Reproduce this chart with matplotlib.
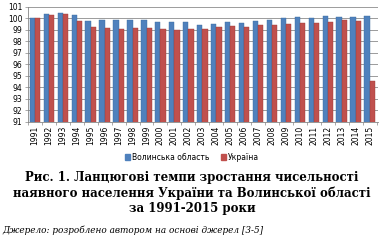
import matplotlib
matplotlib.use("Agg")

import matplotlib.pyplot as plt
import numpy as np
from matplotlib.patches import Patch


years = [str(y) for y in range(1991, 2016)]
volyn = [100.0, 100.35, 100.47, 100.3, 99.75, 99.83, 99.83, 99.83, 99.83, 99.65,
         99.65, 99.65, 99.4, 99.5, 99.65, 99.57, 99.75, 99.83, 100.0, 100.08,
         100.0, 100.2, 100.08, 100.08, 100.2]
ukraine = [100.0, 100.27, 100.38, 99.75, 99.2, 99.12, 99.04, 99.12, 99.12, 99.04,
           98.98, 99.04, 99.04, 99.2, 99.3, 99.2, 99.42, 99.4, 99.5, 99.57,
           99.57, 99.65, 99.85, 99.75, 94.55]

series_names = ["Волинська область", "Україна"]
caption = ("Рис. 1. Ланцюгові темпи зростання чисельності\n"
           "наявного населення України та Волинської області\n"
           "за 1991-2015 роки")
source = "Джерело: розроблено автором на основі джерел [3-5]"

BLUE = "#4F81BD"
RED = "#C0504D"

fig = plt.figure(figsize=(3.84, 2.42), dpi=100)
ax = fig.add_axes([28 / 384, 1 - 121.7 / 242, 350 / 384, 115 / 242])

x = np.arange(len(years))
w = 0.38
ax.bar(x - w / 2, volyn, width=w, color=BLUE, edgecolor="#3A6A9E", linewidth=0.3,
       zorder=2)
ax.bar(x + w / 2, ukraine, width=w, color=RED, edgecolor="#9A3B38", linewidth=0.3,
       zorder=2)

ax.set_ylim(91, 101)
ax.set_xlim(-0.4, len(years) - 0.4)
ax.set_yticks(range(91, 102))
ax.set_yticklabels([str(v) for v in range(91, 102)], fontsize=5.5)
ax.set_xticks(x)
ax.set_xticklabels(years, rotation=90, fontsize=5.5)
ax.set_xticks(np.arange(len(years) + 1) - 0.5, minor=True)
ax.tick_params(axis="x", which="major", length=0, pad=3)
ax.tick_params(axis="x", which="minor", length=2.5, width=0.5, color="#868686")
ax.tick_params(axis="y", length=2, width=0.5, color="#868686", pad=2)
ax.grid(axis="y", color="#8C8C8C", linewidth=0.6, zorder=0)
ax.set_axisbelow(True)
for side in ("top", "right"):
    ax.spines[side].set_visible(False)
for side in ("left", "bottom"):
    ax.spines[side].set_color("#868686")
    ax.spines[side].set_linewidth(0.6)

handles = [Patch(color=BLUE), Patch(color=RED)]
fig.legend(handles, series_names, loc="center", bbox_to_anchor=(0.5, 1 - 157 / 242),
           ncol=2, frameon=False, fontsize=5.5, handlelength=0.7, handleheight=0.7,
           handletextpad=0.2, columnspacing=1.5)

fig.text(0.5, 1 - 193 / 242, caption, ha="center", va="center", fontsize=8.5,
         family="DejaVu Serif", fontweight="bold", linespacing=1.22)
fig.text(2 / 384, 1 - 230 / 242, source, ha="left", va="center", fontsize=6.4,
         family="DejaVu Serif", style="italic")

fig.savefig("out.png", dpi=100)
